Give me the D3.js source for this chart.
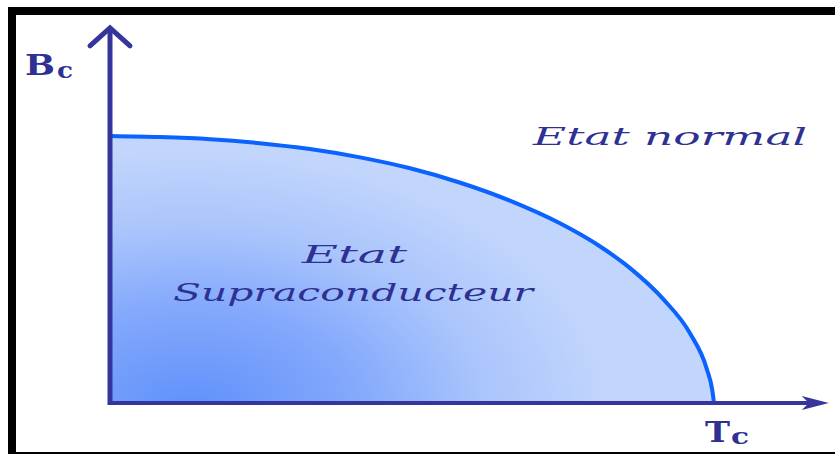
<!DOCTYPE html>
<html>
<head>
<meta charset="utf-8">
<script src="https://cdn.jsdelivr.net/npm/d3@7"></script>
<style>
  html, body { margin: 0; padding: 0; background: #fff; }
  svg { display: block; }
</style>
</head>
<body>
<svg width="835" height="454"></svg>
<script>
// critical field curve (T / Tc, B / Bc0)
const tValues = [0, 0.083, 0.166, 0.248, 0.331, 0.414, 0.497, 0.580, 0.662, 0.745, 0.811, 0.861, 0.916, 0.960, 0.988, 0.997, 1.0];
const bValues = [1.0, 0.996, 0.988, 0.973, 0.951, 0.920, 0.879, 0.825, 0.758, 0.673, 0.587, 0.505, 0.389, 0.262, 0.128, 0.05, 0];

const regionLabels = ['Etat normal', 'Etat', 'Supraconducteur'];
const axisLabels = ['B', 'T'];
const subscript = 'c';

const svg = d3.select('svg');
const width = +svg.attr('width');
const height = +svg.attr('height');

const ink = '#2e3192';
const axisColor = '#35359b';

const xScale = d3.scaleLinear().domain([0, 1]).range([110, 714]);
const yScale = d3.scaleLinear().domain([0, 1]).range([403, 136]);

const data = tValues.map((t, i) => ({t, b: bValues[i]}));

// gradient for the superconducting region
const defs = svg.append('defs');
const grad = defs.append('radialGradient')
	.attr('id', 'sc')
	.attr('gradientUnits', 'userSpaceOnUse')
	.attr('cx', 190).attr('cy', 410).attr('r', 420)
	.attr('gradientTransform', 'translate(190,410) scale(1,0.62) translate(-190,-410)');
grad.append('stop').attr('offset', 0).attr('stop-color', '#5f90fb');
grad.append('stop').attr('offset', 0.4).attr('stop-color', '#84a9fc');
grad.append('stop').attr('offset', 0.7).attr('stop-color', '#aac5fc');
grad.append('stop').attr('offset', 1).attr('stop-color', '#c2d5fc');

const area = d3.area()
	.x(d => xScale(d.t))
	.y0(yScale(0))
	.y1(d => yScale(d.b))
	.curve(d3.curveMonotoneX);

const line = d3.line()
	.x(d => xScale(d.t))
	.y(d => yScale(d.b))
	.curve(d3.curveMonotoneX);

svg.append('path')
	.datum(data)
	.attr('d', area)
	.attr('fill', 'url(#sc)');

svg.append('path')
	.datum(data)
	.attr('d', line)
	.attr('fill', 'none')
	.attr('stroke', '#0a62ff')
	.attr('stroke-width', 4);

// axes
const xEnd = xScale(1.19);
const yEnd = yScale(1.405);

svg.append('line')
	.attr('x1', xScale(0)).attr('y1', yScale(0) + 2)
	.attr('x2', xScale(0)).attr('y2', yEnd + 2)
	.attr('stroke', axisColor).attr('stroke-width', 5);

svg.append('path')
	.attr('d', `M${xScale(0) - 20},${yEnd + 18} L${xScale(0)},${yEnd} L${xScale(0) + 20},${yEnd + 18}`)
	.attr('fill', 'none')
	.attr('stroke', axisColor)
	.attr('stroke-width', 5)
	.attr('stroke-linecap', 'round');

svg.append('line')
	.attr('x1', xScale(0) - 2).attr('y1', yScale(0))
	.attr('x2', xEnd - 8).attr('y2', yScale(0))
	.attr('stroke', axisColor).attr('stroke-width', 4);

svg.append('path')
	.attr('d', `M${xEnd},${yScale(0)} L${xEnd - 27},${yScale(0) - 7} L${xEnd - 20},${yScale(0)} L${xEnd - 27},${yScale(0) + 7} Z`)
	.attr('fill', axisColor);

// axis labels
const boldFont = '"DejaVu Serif", serif';
svg.append('text')
	.attr('x', 25).attr('y', 75)
	.attr('font-family', boldFont).attr('font-weight', 'bold')
	.attr('font-size', 27).attr('fill', ink)
	.attr('textLength', 30).attr('lengthAdjust', 'spacingAndGlyphs')
	.text(axisLabels[0]);
svg.append('text')
	.attr('x', 57).attr('y', 78)
	.attr('font-family', boldFont).attr('font-weight', 'bold')
	.attr('font-size', 22).attr('fill', ink)
	.attr('textLength', 16).attr('lengthAdjust', 'spacingAndGlyphs')
	.text(subscript);

svg.append('text')
	.attr('x', 705).attr('y', 442)
	.attr('font-family', boldFont).attr('font-weight', 'bold')
	.attr('font-size', 27).attr('fill', ink)
	.attr('textLength', 25).attr('lengthAdjust', 'spacingAndGlyphs')
	.text(axisLabels[1]);
svg.append('text')
	.attr('x', 731).attr('y', 444)
	.attr('font-family', boldFont).attr('font-weight', 'bold')
	.attr('font-size', 22).attr('fill', ink)
	.attr('textLength', 18).attr('lengthAdjust', 'spacingAndGlyphs')
	.text(subscript);

// region labels
const scriptFont = '"DejaVu Serif", serif';
const regionPos = [
	{x: 533, y: 145, w: 274},
	{x: 302, y: 263, w: 105},
	{x: 173, y: 301, w: 360}
];
regionLabels.forEach((s, i) => {
	svg.append('text')
		.attr('x', regionPos[i].x).attr('y', regionPos[i].y)
		.attr('font-family', scriptFont)
		.attr('font-style', 'italic')
		.attr('font-size', 24)
		.attr('fill', ink)
		.attr('textLength', regionPos[i].w)
		.attr('lengthAdjust', 'spacingAndGlyphs')
		.text(s);
});

// outer frame
svg.append('rect')
	.attr('x', 12).attr('y', 11)
	.attr('width', width + 10).attr('height', height - 9)
	.attr('fill', 'none')
	.attr('stroke', '#000')
	.attr('stroke-width', 8);
</script>
</body>
</html>
